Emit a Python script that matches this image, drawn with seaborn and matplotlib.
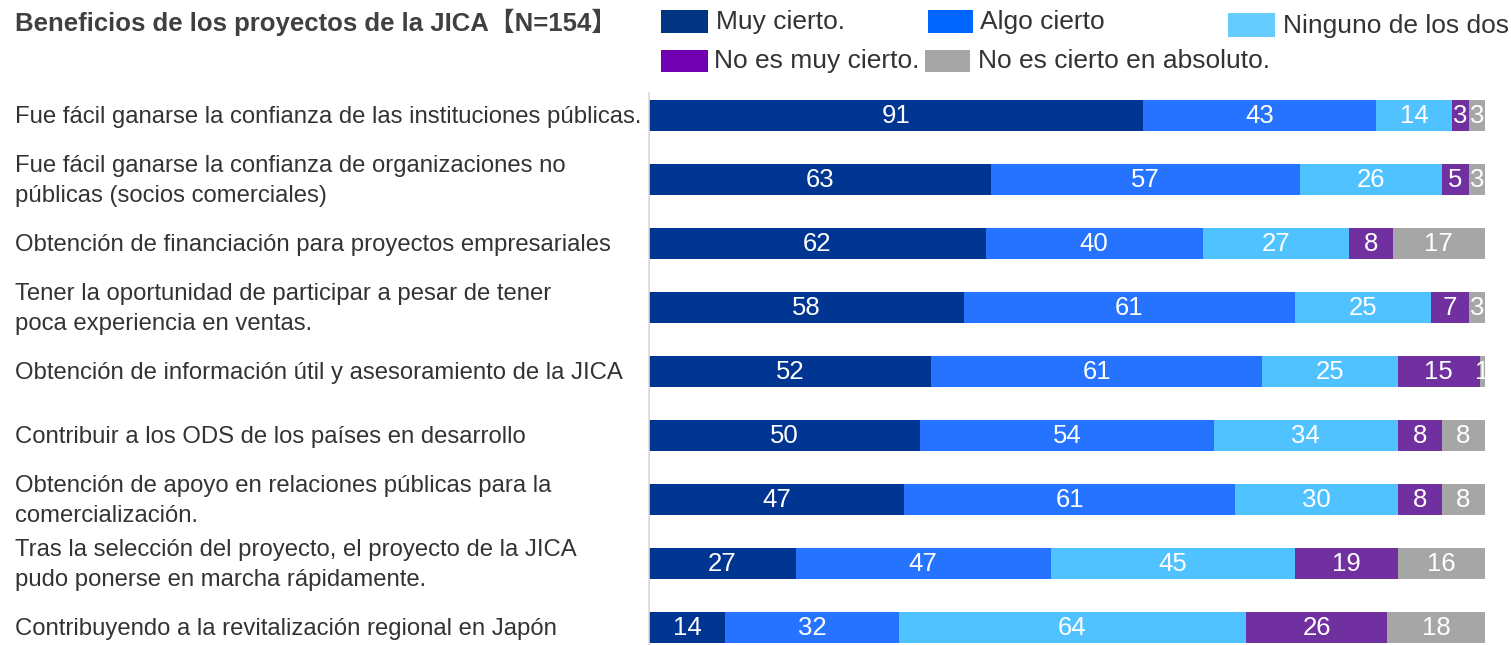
import matplotlib
matplotlib.use("Agg")
import matplotlib.pyplot as plt
import matplotlib.transforms as mtransforms
from matplotlib.patches import Rectangle
import seaborn as sns
import pandas as pd
import numpy as np

categories = [
    "Fue fácil ganarse la confianza de las instituciones públicas.",
    "Fue fácil ganarse la confianza de organizaciones no\npúblicas (socios comerciales)",
    "Obtención de financiación para proyectos empresariales",
    "Tener la oportunidad de participar a pesar de tener\npoca experiencia en ventas.",
    "Obtención de información útil y asesoramiento de la JICA",
    "Contribuir a los ODS de los países en desarrollo",
    "Obtención de apoyo en relaciones públicas para la\ncomercialización.",
    "Tras la selección del proyecto, el proyecto de la JICA\npudo ponerse en marcha rápidamente.",
    "Contribuyendo a la revitalización regional en Japón",
]
series_names = ["Muy cierto.", "Algo cierto", "Ninguno de los dos",
                "No es muy cierto.", "No es cierto en absoluto."]
muy_cierto = [91, 63, 62, 58, 52, 50, 47, 27, 14]
algo_cierto = [43, 57, 40, 61, 61, 54, 61, 47, 32]
ninguno = [14, 26, 27, 25, 25, 34, 30, 45, 64]
no_muy = [3, 5, 8, 7, 15, 8, 8, 19, 26]
no_absoluto = [3, 3, 17, 3, 1, 8, 8, 16, 18]
title = "Beneficios de los proyectos de la JICA【N=154】"
N = 154

bar_colors = ["#003591", "#2673ff", "#50c2ff", "#7030a0", "#a6a6a6"]
legend_colors = ["#003380", "#0066ff", "#66ccff", "#7000b0", "#a6a6a6"]

sns.set_theme(style="white")
plt.rcParams["font.family"] = ["Liberation Sans", "Noto Sans CJK JP", "DejaVu Sans"]

fig = plt.figure(figsize=(15.11, 6.45), dpi=100)
ax = fig.add_axes([649 / 1511, 0.0, (1485 - 649) / 1511, 1 - 93 / 645])

series = [muy_cierto, algo_cierto, ninguno, no_muy, no_absoluto]
df = pd.DataFrame({"cat": categories})
left = np.zeros(len(categories))
for name, vals, col in zip(series_names, series, bar_colors):
    df["val"] = vals
    df["left"] = left
    ax.barh(np.arange(len(categories)), df["val"], left=df["left"], height=0.49,
            color=col, edgecolor="none", linewidth=0)
    for i, v in enumerate(vals):
        ax.text(left[i] + v / 2, i, str(v), ha="center", va="center",
                color="white", fontsize=18.5, clip_on=True)
    left = left + np.array(vals)

ax.set_xlim(0, N)
ax.set_ylim(8.273, -0.352)
ax.set_xticks([])
ax.set_yticks([])
for s in ["top", "right", "bottom"]:
    ax.spines[s].set_visible(False)
ax.spines["left"].set_color("#d9d9d9")
ax.spines["left"].set_linewidth(1.2)

trans = mtransforms.blended_transform_factory(fig.transFigure, ax.transData)
for i, c in enumerate(categories):
    ax.text(15 / 1511, i + 0.02, c, transform=trans, ha="left", va="center",
            fontsize=17.2, color="#333333", linespacing=1.45, clip_on=False)

fig.text(15 / 1511, 1 - 22 / 645, title, ha="left", va="center",
         fontsize=18.5, fontweight="bold", color="#404040")

# legend (manual layout)
leg_items = [
    (661, 10, 708, 33, 716, 22),
    (928, 10, 973, 33, 980, 22),
    (1228, 13, 1275, 37, 1283, 26),
    (661, 50, 708, 72, 714, 61),
    (925, 50, 970, 72, 978, 61),
]
for (x0, y0, x1, y1, tx, ty), name, col in zip(leg_items, series_names, legend_colors):
    fig.patches.append(Rectangle((x0 / 1511, 1 - y1 / 645), (x1 - x0) / 1511,
                                 (y1 - y0) / 645, transform=fig.transFigure,
                                 facecolor=col, edgecolor="none"))
    fig.text(tx / 1511, 1 - ty / 645, name, ha="left", va="center",
             fontsize=19, color="#333333")

fig.savefig("out.png", dpi=100)
